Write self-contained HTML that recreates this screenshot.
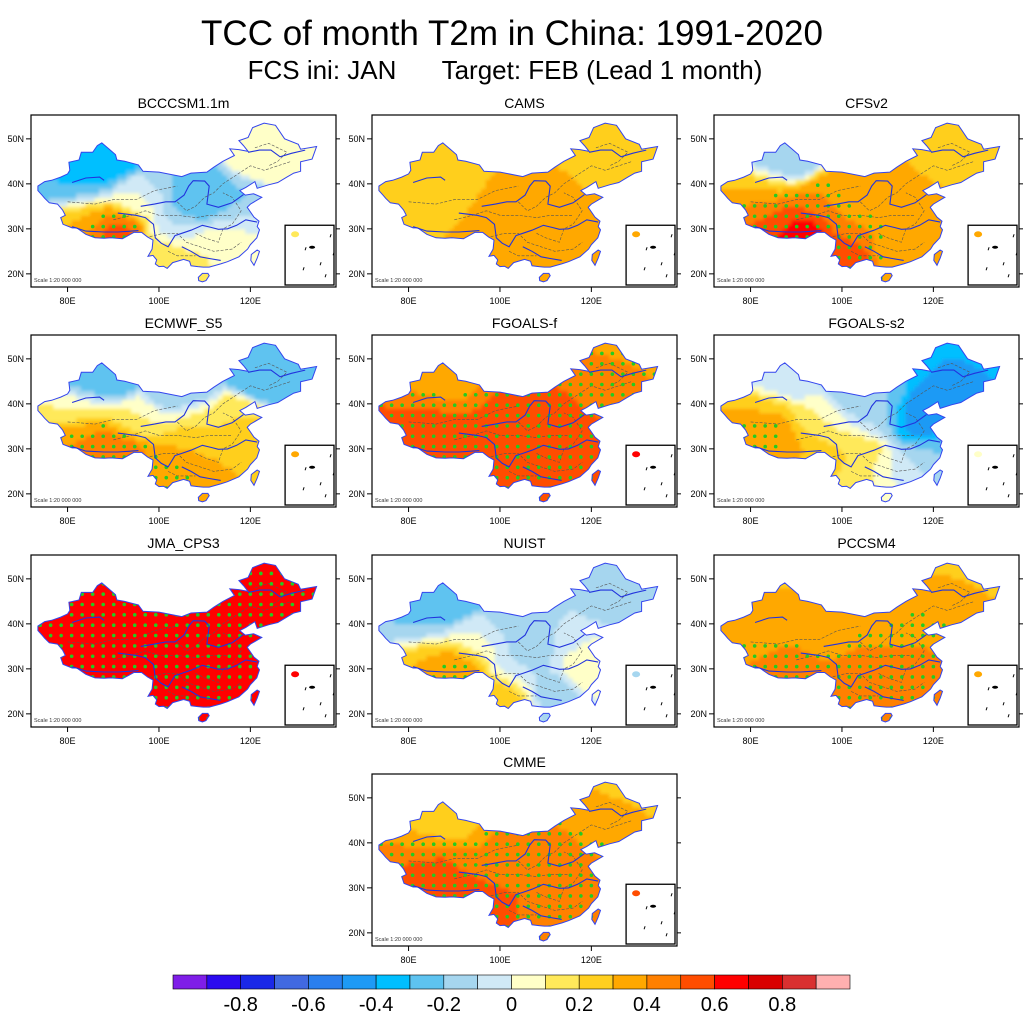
<!DOCTYPE html>
<html><head><meta charset="utf-8">
<style>
body{margin:0;background:#fff;}
svg text{font-family:"Liberation Sans",sans-serif;}
</style></head>
<body>
<svg id="fig" width="1024" height="1024" viewBox="0 0 1024 1024" xmlns="http://www.w3.org/2000/svg">
<rect width="1024" height="1024" fill="#fff"/>
<text x="512" y="45" font-size="35" text-anchor="middle">TCC of month T2m in China: 1991-2020</text>
<text x="322" y="79" font-size="26" text-anchor="middle">FCS ini: JAN</text>
<text x="602" y="79" font-size="26" text-anchor="middle">Target: FEB (Lead 1 month)</text>
<defs>
<filter id="bl" x="-5%" y="-5%" width="110%" height="110%"><feGaussianBlur stdDeviation="1.6"/></filter>
</defs>
<g id="panels"></g>
<g id="cbar"></g>
</svg>
<script>
// ---- data ----
const panelNames=["BCCCSM1.1m","CAMS","CFSv2","ECMWF_S5","FGOALS-f","FGOALS-s2","JMA_CPS3","NUIST","PCCSM4","CMME"];
const regionCenters=[[86,45],[82,39],[84,33],[91,30.5],[96,36],[105,41],[108,36],[125,46],[116,36],[104,30],[101,25],[112,26],[118,29]];
const valsBCC   =[-0.4,-0.3,0.3,0.55,0.0,-0.2,-0.3,0.1,-0.2,-0.1,0.2,0.1,0.0];
const valsCAMS  =[0.2,0.2,0.3,0.3,0.3,0.3,0.35,0.25,0.3,0.35,0.3,0.35,0.35];
const valsCFS   =[-0.2,0.3,0.5,0.65,0.4,0.3,0.3,0.3,0.3,0.4,0.6,0.3,0.3];
const valsECMWF =[-0.3,0.1,0.4,0.5,0.1,-0.2,0.2,-0.3,0.2,0.3,0.4,0.3,0.3];
const valsFGf   =[0.3,0.5,0.6,0.6,0.5,0.5,0.6,0.4,0.5,0.6,0.6,0.6,0.5];
const valsFGs2  =[-0.1,0.3,0.4,0.3,0.1,-0.2,-0.1,-0.4,-0.5,0.2,0.2,0.0,-0.2];
const valsJMA   =[0.65,0.6,0.7,0.7,0.6,0.65,0.7,0.7,0.65,0.7,0.65,0.6,0.65];
const valsNUIST =[-0.3,-0.2,0.3,0.4,0.0,-0.2,-0.2,-0.2,0.0,-0.1,0.3,-0.2,0.1];
const valsPCC   =[0.3,0.3,0.4,0.5,0.3,0.3,0.4,0.3,0.4,0.5,0.5,0.4,0.4];
const valsCMME  =[0.2,0.4,0.6,0.6,0.4,0.4,0.5,0.3,0.4,0.5,0.5,0.5,0.4];
const allVals=[valsBCC,valsCAMS,valsCFS,valsECMWF,valsFGf,valsFGs2,valsJMA,valsNUIST,valsPCC,valsCMME];
const cbarLabels=["-0.8","-0.6","-0.4","-0.2","0","0.2","0.4","0.6","0.8"];
const xTicks=[80,100,120];
const yTicks=[50,40,30,20];
const colors=["#7f1ee8","#2b0af0","#1a28e8","#4169e1","#2a7fee","#1e9af5","#00bfff","#5ec3f0","#a6d6ef","#d0e9f6","#ffffc8","#ffe95a","#ffcf1f","#ffa800","#ff8000","#ff4d00","#ff0000","#d90000","#d93030","#ffb0b0"];
const china=[[73.5,39.5],[75,40.5],[76.5,40.8],[78.5,41.5],[80,42.2],[80.5,43],[80.3,44.8],[82.5,45.3],[83,47],[85.5,47],[86.5,48.5],[87.5,49.1],[89,47.8],[90.5,46.5],[90.8,45.3],[92.5,45],[95.5,44.2],[96.5,42.8],[100,42.6],[105,41.6],[107,42.4],[110.5,42.6],[112,43.7],[114,45],[116.5,46.3],[115.5,47.8],[117.5,47.6],[119.5,47.2],[118.5,48.5],[117.5,49.6],[119.5,50.3],[120.5,52.5],[123,53.5],[125.5,53],[127.5,50],[130.5,48.8],[131,47.7],[134.5,48.3],[133.5,45.5],[131,44.9],[131,42.8],[129.5,42.4],[128,41.5],[126,40.3],[124,39.8],[121.5,39],[121,40.5],[119,39.2],[117.7,38.5],[118.9,37.5],[120.7,37.8],[122.5,37],[120,35.5],[119.3,34.8],[120.8,32.6],[121.9,31.7],[121.5,30.5],[122,29.8],[121.4,28],[120,26.5],[119.4,25.5],[117.5,23.8],[115,22.7],[113.5,22.2],[111,21.5],[109.7,21.5],[108.5,21.6],[107,21.8],[106.7,22.8],[105.4,23.2],[103,22.5],[101.8,21.2],[101,21.7],[100,21.6],[99.2,22.2],[99.5,23.1],[98.7,24.1],[97.6,23.9],[98.5,25.5],[98.7,27.5],[97.5,28.2],[96.2,29.2],[94.5,29.2],[92,27.8],[89.5,28],[88,27.9],[86,28],[84,28.8],[82,30.2],[81,30.2],[79,31],[78.5,32.5],[79.5,33],[78.9,34.2],[77.8,35.5],[76,35.8],[75,36.8],[74.5,37.4],[73.5,38.5]];
const hainan=[[108.6,19.2],[109.5,20.1],[110.7,20.1],[111,19.6],[110.3,18.5],[109.5,18.2],[108.7,18.5]];
const taiwan=[[121.5,25.3],[122,25],[121.5,23.5],[120.8,21.9],[120.1,23],[120.2,24.3]];
const rivers=[
 [[81,40.3],[84,41.3],[87,41.5],[88,40.8]],
 [[96,35],[99,35.5],[101.5,36],[103.5,36],[105.5,37.5],[106.5,39.5],[107.5,40.7],[110,40.6],[111,39.5],[110.5,35.5],[113,34.8],[116,35.8],[118.5,37.6]],
 [[91,33.5],[95,33],[97,32.5],[98.8,31],[99.2,28],[100.5,26.8],[102,26],[103.5,28.5],[105,29],[107,29.7],[109.5,30.8],[111.5,30.3],[113,29.9],[115,30],[117,30.8],[119,32],[121.5,31.5]],
 [[81,30.5],[84,29.5],[88,29.3],[91,29.3],[94,29.5],[95.5,29.6]],
 [[105,26],[107,25],[109,23.8],[111,23.4],[113.5,23]],
 [[119.5,47],[122,47.5],[124.5,47.5],[126.5,46],[129,46.8],[132,47.5]]
];
const provinces=[
 [[80,36],[86,35.5],[90,36.5],[95,36.5],[99,38.5],[104,39.5]],
 [[90,32],[94,33],[97,34],[100,33],[104,33],[108,32.5],[111,33],[116,33]],
 [[97,28],[101,29],[104,29],[106,27],[109,26],[112,25],[116,25.5],[118,27]],
 [[104,36],[106,34],[108,35],[110,37],[112,38],[114,40],[117,42],[120,44],[123,43],[126,44],[129,45]],
 [[108,29],[110,28],[113,27],[114,30],[116,31],[118,34],[116,37],[114,38]],
 [[102,25],[104,24],[106,24],[108,24]],
 [[121,48],[124,49],[126,48],[128,47],[126,45],[124,44]]
];
const L=[{n:0,x:31,y:115},{n:1,x:372,y:115},{n:2,x:714,y:115},{n:3,x:31,y:335},{n:4,x:372,y:335},{n:5,x:714,y:335},{n:6,x:31,y:555},{n:7,x:372,y:555},{n:8,x:714,y:555},{n:9,x:372,y:774}];
const W=305,H=172,LON0=72,LAT0=55.3,SX=4.57,SY=4.5;
const NS="http://www.w3.org/2000/svg";
function mk(t,a,p){const e=document.createElementNS(NS,t);for(const k in a)e.setAttribute(k,a[k]);p.appendChild(e);return e;}
function col(v){let i=Math.floor((v+1)/0.1);i=Math.max(0,Math.min(19,i));return colors[i];}
function field(vals,lon,lat){let s=0,w=0;for(let i=0;i<regionCenters.length;i++){const dx=(lon-regionCenters[i][0])/5,dy=(lat-regionCenters[i][1])/3.5;const ww=Math.exp(-(dx*dx+dy*dy));s+=ww*vals[i];w+=ww;}return s/(w+1e-9);}
const root=document.getElementById('panels');
L.forEach((p,pi)=>{
 const vals=allVals[p.n];
 const X=lon=>p.x+(lon-LON0)*SX, Y=lat=>p.y+(LAT0-lat)*SY;
 const poly=pts=>pts.map(q=>X(q[0]).toFixed(1)+','+Y(q[1]).toFixed(1)).join(' ');
 const g=mk('g',{},root);
 
 
 const t=mk('text',{x:p.x+W/2,y:p.y-7,'font-size':14,'text-anchor':'middle'},g);t.textContent=panelNames[p.n];
 
 
 const cid='clip'+pi;
 const cp=mk('clipPath',{id:cid},g);
 mk('polygon',{points:poly(china)},cp);mk('polygon',{points:poly(hainan)},cp);mk('polygon',{points:poly(taiwan)},cp);
 const fg=mk('g',{'clip-path':'url(#'+cid+')'},g);
 const fi=mk('g',{filter:'url(#bl)'},fg);
 
 
 for(let lon=72;lon<136;lon+=1)for(let lat=17;lat<55;lat+=1){
  const v=field(vals,lon+0.5,lat+0.5);
  mk('rect',{x:X(lon)-0.5,y:Y(lat+1)-0.5,width:SX+1,height:SY+1,fill:col(v)},fi);
 }
 provinces.forEach(r=>mk('polyline',{points:poly(r),fill:'none',stroke:'#555','stroke-width':0.6,'stroke-dasharray':'3,1.5'},fg));
 const dg=mk('g',{fill:'#22cc22'},fg);
 
 
 for(let lon=74;lon<136;lon+=2.3)for(let lat=19;lat<55;lat+=2.3){
  if(field(vals,lon,lat)>=0.35)mk('circle',{cx:X(lon),cy:Y(lat),r:1.8},dg);
 }
 [china,hainan,taiwan].forEach(pp=>mk('polygon',{points:poly(pp),fill:'none',stroke:'#3344ee','stroke-width':1},g));
 rivers.forEach(r=>mk('polyline',{points:poly(r),fill:'none',stroke:'#2233dd','stroke-width':1.1},g));
 const ix=X(127.6),iy=Y(30.8);
 const ins=mk('rect',{x:ix,y:iy,width:p.x+W-ix-2,height:p.y+H-iy-2,fill:'#fff',stroke:'#000','stroke-width':1.3},g);
 
 
 mk('ellipse',{cx:ix+10,cy:iy+9,rx:4,ry:3,fill:col(vals[11])},g);
 mk('ellipse',{cx:ix+27,cy:iy+22,rx:3,ry:1.5,fill:'#000'},g);
 [[20,25],[35,40],[45,12],[18,45],[40,52],[48,30]].forEach(q=>mk('line',{x1:ix+q[0],y1:iy+q[1],x2:ix+q[0]+1,y2:iy+q[1]-3,stroke:'#000','stroke-width':1},g));
 const st=mk('text',{x:p.x+3,y:p.y+H-5,'font-size':5.5,fill:'#333'},g);st.textContent='Scale 1:20 000 000';
 
 
 const fr=mk('rect',{x:p.x,y:p.y,width:W,height:H,fill:'none',stroke:'#000','stroke-width':1.2},g);
 
 
 xTicks.forEach(v=>{mk('line',{x1:X(v),y1:p.y+H,x2:X(v),y2:p.y+H+5,stroke:'#000'},g);
  const tt=mk('text',{x:X(v),y:p.y+H+17,'font-size':9,'text-anchor':'middle'},g);tt.textContent=v+'E';
  
  });
 yTicks.forEach(v=>{mk('line',{x1:p.x-5,y1:Y(v),x2:p.x,y2:Y(v),stroke:'#000'},g);
  mk('line',{x1:p.x+W,y1:Y(v),x2:p.x+W+4,y2:Y(v),stroke:'#000'},g);
  const tt=mk('text',{x:p.x-7,y:Y(v)+3,'font-size':9,'text-anchor':'end'},g);tt.textContent=v+'N';
  
  });
});
const cb=document.getElementById('cbar');


const cx0=173,cw=33.85,cy=975,ch=14;
colors.forEach((c,i)=>{const r=mk('rect',{x:cx0+i*cw,y:cy,width:cw,height:ch,fill:c,stroke:'#000','stroke-width':0.6},cb);
 
 });
cbarLabels.forEach((s,i)=>{const t=mk('text',{x:cx0+(2+2*i)*cw,y:1011,'font-size':20,'text-anchor':'middle'},cb);t.textContent=s;
 
 });
</script>
</body></html>
